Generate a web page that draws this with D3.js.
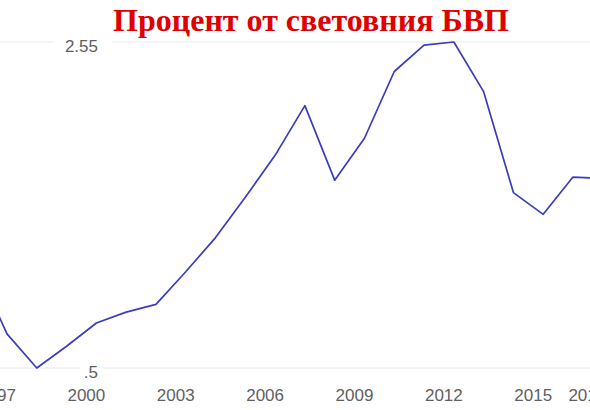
<!DOCTYPE html>
<html>
<head>
<meta charset="utf-8">
<script src="https://cdn.jsdelivr.net/npm/d3@7"></script>
<style>
  body { margin: 0; background: #fff; }
  svg { display: block; }
</style>
</head>
<body>
<svg id="root"></svg>
<script>
var width = 590,
    height = 410;

// data
var years = [1996, 1997, 1998, 1999, 2000, 2001, 2002, 2003, 2004, 2005, 2006,
             2007, 2008, 2009, 2010, 2011, 2012, 2013, 2014, 2015, 2016, 2017];
var values = [1.82, 1.61, 1.50, 1.57, 1.645, 1.68, 1.705, 1.81, 1.92, 2.05, 2.185,
              2.345, 2.105, 2.24, 2.455, 2.54, 2.55, 2.39, 2.065, 1.995, 2.115, 2.11];
var xTicks = [1997, 2000, 2003, 2006, 2009, 2012, 2015, 2017];
var yTicks = [1.5, 2.55];
var yTickLabels = ['.5', '2.55'];
var title = 'Процент от световния БВП';

var root = d3.select('#root')
    .attr('width', width)
    .attr('height', height);

root.append('rect')
    .attr('width', width)
    .attr('height', height)
    .attr('fill', '#fff');

var x = d3.scaleLinear()
    .domain([1997, 2016])
    .range([7, 573]);
var y = d3.scaleLinear()
    .domain([1.5, 2.55])
    .range([368, 42]);

// gridlines
root.selectAll('.grid')
    .data(yTicks)
    .enter()
        .append('line')
        .attr('class', 'grid')
        .attr('x1', 0)
        .attr('x2', width)
        .attr('y1', function(d) { return y(d); })
        .attr('y2', function(d) { return y(d); })
        .attr('stroke', '#e8e8e8')
        .attr('stroke-width', 1);

// line
var line = d3.line()
    .x(function(d) { return x(d[0]); })
    .y(function(d) { return y(d[1]); });

root.append('path')
    .datum(years.map(function(yr, i) { return [yr, values[i]]; }))
    .attr('d', line)
    .attr('fill', 'none')
    .attr('stroke', '#3c3cbe')
    .attr('stroke-width', 1.7)
    .attr('stroke-linejoin', 'round');

// y labels sit on the gridlines with a white patch behind
var yAxis = root.append('g')
    .attr('transform', 'translate(98,0)')
    .call(d3.axisLeft(y)
        .tickValues(yTicks)
        .tickSize(0)
        .tickPadding(0)
        .tickFormat(function(d, i) { return yTickLabels[i]; }));
yAxis.select('.domain').remove();
yAxis.selectAll('text')
    .attr('font-family', 'Arial, "Liberation Sans", sans-serif')
    .attr('font-size', 17)
    .attr('fill', '#5f5f5f')
    .attr('dy', '0.55em');
yAxis.selectAll('.tick').each(function(d, i) {
    var t = d3.select(this).select('text'),
        bb = t.node().getBBox(),
        pad = i === 0 ? 3 : 12;
    d3.select(this).insert('rect', 'text')
        .attr('x', bb.x - pad)
        .attr('y', -3)
        .attr('width', bb.width + pad * 2 + 2)
        .attr('height', 6)
        .attr('fill', '#fff');
});

// x labels
var xAxis = root.append('g')
    .attr('transform', 'translate(0,368)')
    .call(d3.axisBottom(x)
        .tickValues(xTicks)
        .tickSize(0)
        .tickFormat(d3.format('d')));
xAxis.select('.domain').remove();
xAxis.selectAll('text')
    .attr('font-family', 'Arial, "Liberation Sans", sans-serif')
    .attr('font-size', 17)
    .attr('fill', '#5f5f5f')
    .attr('y', 33)
    .attr('dy', 0)
    .attr('dx', function(d) { return d === 2017 ? -16 : -10.5; });

// title
root.append('text')
    .attr('x', 311)
    .attr('y', 31)
    .attr('text-anchor', 'middle')
    .attr('font-family', '"Times New Roman", "Liberation Serif", serif')
    .attr('font-weight', 'bold')
    .attr('font-size', 32)
    .attr('fill', '#e00000')
    .text(title);
</script>
</body>
</html>
